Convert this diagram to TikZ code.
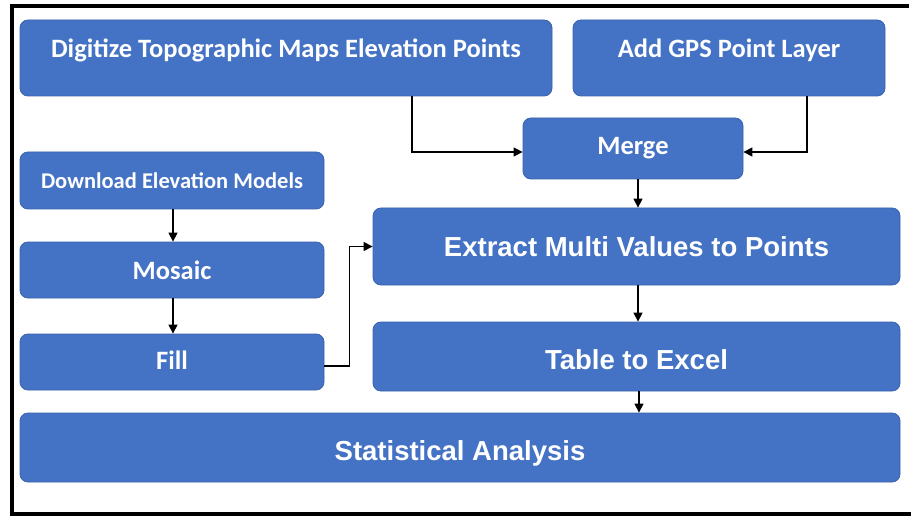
\documentclass[tikz,border=0pt]{standalone}
\usepackage{fontspec}
\usetikzlibrary{arrows.meta,calc}
\newfontfamily\carl{Carlito}
\newfontfamily\lib{Liberation Sans}
\definecolor{boxblue}{HTML}{4472C4}
\definecolor{boxedge}{HTML}{3A62AE}
\begin{document}
\begin{tikzpicture}[x=1pt,y=-1pt,
  box/.style={draw=boxedge,line width=0.8pt,fill=boxblue,rounded corners=8pt,inner sep=0pt},
  ctext/.style={text=white,font=\carl\bfseries\fontsize{26.5}{30}\selectfont},
  atext/.style={text=white,font=\lib\bfseries\fontsize{27.5}{32}\selectfont},
  arr/.style={-{Triangle[length=9pt,width=9pt]},line width=1.3pt,black}]
\useasboundingbox (0,0) rectangle (911,516);
\fill[white] (0,0) rectangle (911,516);
\draw[line width=4pt] (909,6) -- (12,6) -- (12,513.5) -- (911,513.5);
% boxes
\node[box,minimum width=532pt,minimum height=76pt,
  label={[ctext,yshift=8pt]center:Digitize Topographic Maps Elevation Points}] (dig) at (286,58) {};
\node[box,minimum width=312pt,minimum height=76pt,
  label={[ctext,yshift=8pt]center:Add GPS Point Layer}] (gps) at (729,58) {};
\node[box,minimum width=220pt,minimum height=61pt,
  label={[ctext]center:Merge}] (merge) at (633,148.5) {};
\node[box,minimum width=304pt,minimum height=57pt,
  label={[ctext,font=\carl\bfseries\fontsize{22.5}{26}\selectfont]center:Download Elevation Models}] (down) at (172,180.5) {};
\node[box,minimum width=304pt,minimum height=56pt,
  label={[ctext]center:Mosaic}] (mosaic) at (172,270) {};
\node[box,minimum width=304pt,minimum height=56pt,
  label={[ctext,yshift=2pt]center:Fill}] (fill) at (172,362) {};
\node[box,minimum width=527pt,minimum height=77pt,
  label={[atext]center:Extract Multi Values to Points}] (extract) at (636.5,246.5) {};
\node[box,minimum width=527pt,minimum height=69pt,
  label={[atext,yshift=-3pt]center:Table to Excel}] (table) at (636.5,356.5) {};
\node[box,minimum width=880pt,minimum height=69pt,
  label={[atext,yshift=-6pt]center:Statistical Analysis}] (stat) at (460,447.5) {};
% connectors
\draw[arr] (dig.south -| 412,0) |- ([yshift=-3.5pt]merge.west);
\draw[arr] (gps.south -| 807,0) |- ([yshift=-3.5pt]merge.east);
\draw[arr] (merge.south -| 638,0) -- (extract.north -| 638,0);
\draw[arr] (down.south -| 173,0) -- (mosaic.north -| 173,0);
\draw[arr] (mosaic.south -| 173,0) -- (fill.north -| 173,0);
\draw[arr] ([yshift=-4pt]fill.east) -- ++(25,0) |- (extract.west);
\draw[arr] (extract.south -| 638,0) -- (table.north -| 638,0);
\draw[arr] (table.south -| 639,0) -- (stat.north -| 639,0);
\end{tikzpicture}
\end{document}
